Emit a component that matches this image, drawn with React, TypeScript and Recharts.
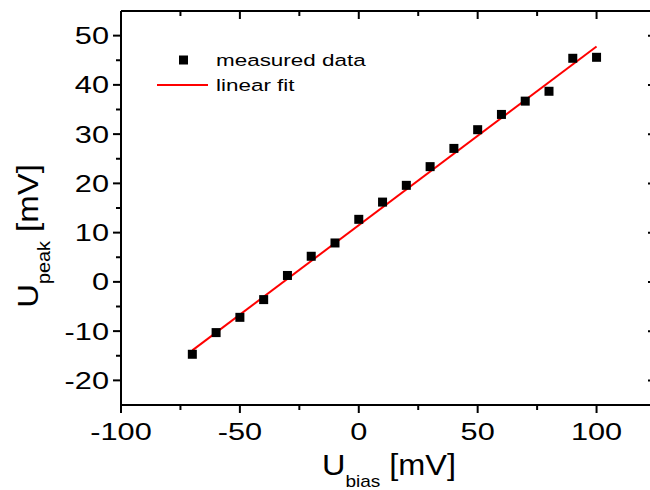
import React from 'react';
import { ComposedChart, XAxis, YAxis, Scatter, Line, Legend } from 'recharts';

const biasValues = [-70, -60, -50, -40, -30, -20, -10, 0, 10, 20, 30, 40, 50, 60, 70, 80, 90, 100];
const peakValues = [-14.7, -10.3, -7.2, -3.6, 1.3, 5.2, 7.9, 12.7, 16.2, 19.6, 23.4, 27.1, 30.9, 34.0, 36.7, 38.7, 45.4, 45.6];
const fitBias = [-70, 100];
const fitPeak = [-13.9, 47.8];

const xMajorTicks = [-100, -50, 0, 50, 100];
const xMinorTicks = [-75, -25, 25, 75];
const yMajorTicks = [-20, -10, 0, 10, 20, 30, 40, 50];
const yMinorTicks = [-15, -5, 5, 15, 25, 35, 45];

const measured = biasValues.map((x, i) => ({ x, y: peakValues[i] }));
const fit = fitBias.map((x, i) => ({ x, y: fitPeak[i] }));
const xTicksAll = [...xMajorTicks, ...xMinorTicks].sort((a, b) => a - b);
const yTicksAll = [...yMajorTicks, ...yMinorTicks].sort((a, b) => a - b);

const FONT = '"Liberation Sans", Arial, sans-serif';
const TICK_FS = 24;
const TICK_SX = 1.28;
const MAJOR = 8;
const MINOR = 5;

const BottomTick = (props: any) => {
  const { x, y, payload } = props;
  const major = xMajorTicks.includes(payload.value);
  return (
    <g>
      <line x1={x} x2={x} y1={y} y2={y + (major ? MAJOR : MINOR)} stroke="#000" strokeWidth={2} />
      {major && (
        <text transform={`translate(${x},${y + 35}) scale(${TICK_SX},1)`} textAnchor="middle" fontSize={TICK_FS} fontFamily={FONT} fill="#000">
          {payload.value}
        </text>
      )}
    </g>
  );
};

const TopTick = (props: any) => {
  const { x, payload } = props;
  const major = xMajorTicks.includes(payload.value);
  const y0 = 11;
  return <line x1={x} x2={x} y1={y0} y2={y0 + (major ? MAJOR : MINOR)} stroke="#000" strokeWidth={2} />;
};

const LeftTick = (props: any) => {
  const { x, y, payload } = props;
  const major = yMajorTicks.includes(payload.value);
  return (
    <g>
      <line x1={x - (major ? MAJOR : MINOR)} x2={x} y1={y} y2={y} stroke="#000" strokeWidth={2} />
      {major && (
        <text transform={`translate(${x - 12},${y + 8.6}) scale(${TICK_SX},1)`} textAnchor="end" fontSize={TICK_FS} fontFamily={FONT} fill="#000">
          {payload.value}
        </text>
      )}
    </g>
  );
};

const RightTick = (props: any) => {
  const { y, payload } = props;
  const major = yMajorTicks.includes(payload.value);
  const x0 = 656;
  return <line x1={x0 - (major ? MAJOR : MINOR)} x2={x0} y1={y} y2={y} stroke="#000" strokeWidth={2} />;
};

const SquareDot = (props: any) => {
  const { cx, cy } = props;
  if (cx == null || cy == null) return null;
  return <rect x={cx - 4.5} y={cy - 4.5} width={9} height={9} fill="#000" />;
};

const NoDot = () => null;

const XLabel = () => (
  <text x={389} y={475} textAnchor="middle" fontSize={29} fontFamily={FONT} fill="#000" transform="translate(389,0) scale(1.12,1) translate(-389,0)">
    <tspan>U</tspan>
    <tspan fontSize={17} dy={12}>bias</tspan>
    <tspan dy={-12}> [mV]</tspan>
  </text>
);

const YLabel = () => (
  <text transform="translate(38,236) rotate(-90) scale(1.1,1)" x={0} y={0} textAnchor="middle" fontSize={30} fontFamily={FONT} fill="#000">
    <tspan>U</tspan>
    <tspan fontSize={18} dy={12}>peak</tspan>
    <tspan dy={-12}> [mV]</tspan>
  </text>
);

const LegendContent = () => (
  <svg width={260} height={56} style={{ display: 'block' }}>
    <rect x={29} y={10.5} width={9} height={9} fill="#000" />
    <text transform="translate(66,21) scale(1.36,1)" fontSize={16.5} fontFamily={FONT} fill="#000">measured data</text>
    <line x1={7} x2={58} y1={40} y2={40} stroke="#ff0000" strokeWidth={2} />
    <text transform="translate(66,46) scale(1.36,1)" fontSize={16.5} fontFamily={FONT} fill="#000">linear fit</text>
  </svg>
);

export default function App() {
  return (
    <div style={{ position: 'absolute', left: 0, top: 0, width: 650, height: 490, overflow: 'hidden', background: '#fff' }}>
      <ComposedChart width={680} height={490} margin={{ top: 10, right: 23, left: 0, bottom: 0 }}>
        <XAxis
          xAxisId="main"
          type="number"
          dataKey="x"
          domain={[-100, 125]}
          ticks={xTicksAll}
          interval={0}
          orientation="bottom"
          height={85}
          tickSize={0}
          tickMargin={0}
          tick={<BottomTick />}
          tickLine={false}
          axisLine={{ stroke: '#000', strokeWidth: 2 }}
          allowDataOverflow
          label={<XLabel />}
        />
        <XAxis
          xAxisId="top"
          type="number"
          dataKey="x"
          domain={[-100, 125]}
          ticks={xTicksAll}
          interval={0}
          orientation="top"
          height={1}
          tickSize={0}
          tickMargin={0}
          tick={<TopTick />}
          tickLine={false}
          axisLine={{ stroke: '#000', strokeWidth: 2 }}
          allowDataOverflow
        />
        <YAxis
          yAxisId="main"
          type="number"
          dataKey="y"
          domain={[-25, 55]}
          ticks={yTicksAll}
          interval={0}
          orientation="left"
          width={121}
          tickSize={0}
          tickMargin={0}
          tick={<LeftTick />}
          tickLine={false}
          axisLine={{ stroke: '#000', strokeWidth: 2 }}
          allowDataOverflow
          label={<YLabel />}
        />
        <YAxis
          yAxisId="right"
          type="number"
          dataKey="y"
          domain={[-25, 55]}
          ticks={yTicksAll}
          interval={0}
          orientation="right"
          width={1}
          tickSize={0}
          tickMargin={0}
          tick={<RightTick />}
          tickLine={false}
          axisLine={{ stroke: '#000', strokeWidth: 2 }}
          allowDataOverflow
        />
        <Scatter
          xAxisId="top"
          yAxisId="right"
          data={measured}
          dataKey="y"
          shape={<NoDot />}
          isAnimationActive={false}
          legendType="none"
        />
        <Line
          xAxisId="main"
          yAxisId="main"
          data={fit}
          dataKey="y"
          type="linear"
          stroke="#ff0000"
          strokeWidth={2}
          dot={false}
          activeDot={false}
          isAnimationActive={false}
          legendType="none"
        />
        <Scatter
          xAxisId="main"
          yAxisId="main"
          data={measured}
          dataKey="y"
          shape={<SquareDot />}
          isAnimationActive={false}
          legendType="none"
        />
        <Legend
          layout="vertical"
          align="center"
          verticalAlign="middle"
          content={<LegendContent />}
          wrapperStyle={{ left: 150, top: 45, width: 260, height: 56 }}
        />
      </ComposedChart>
    </div>
  );
}
